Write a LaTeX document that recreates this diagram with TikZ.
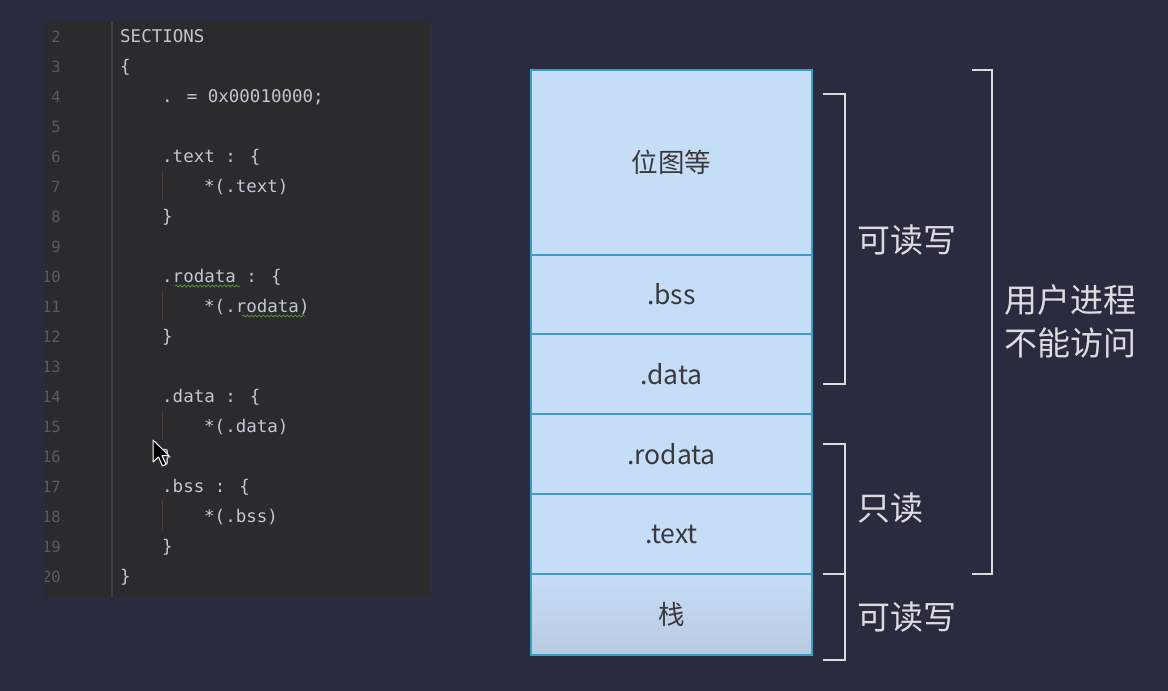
\documentclass[tikz,border=0pt]{standalone}
\usepackage{fontspec}
\setmainfont{Noto Sans CJK SC}
\newfontfamily\codefont{DejaVu Sans Mono}
\usetikzlibrary{decorations.pathmorphing}

\definecolor{hintergrund}{HTML}{282C3E}
\definecolor{editor}{HTML}{2B2B2D}
\definecolor{gutter}{HTML}{3E3F44}
\definecolor{codetext}{HTML}{C2C7D2}
\definecolor{zeilennr}{HTML}{585C64}
\definecolor{zellfarbe}{HTML}{C6DDF8}
\definecolor{zellrand}{HTML}{3C9EC4}
\definecolor{zelltext}{HTML}{3A3A3C}
\definecolor{klammerfarbe}{HTML}{DCDCE0}
\definecolor{wellig}{HTML}{4F8A3C}
\definecolor{fuehrung}{HTML}{4A3A3C}

\tikzset{
	zeile/.style={anchor=base west, inner sep=0pt, text=codetext, font=\codefont\fontsize{17.5}{20}\selectfont},
	nummer/.style={anchor=base east, inner sep=0pt, text=zeilennr, font=\codefont\fontsize{15.5}{18}\selectfont},
	zelle/.style={draw=zellrand, line width=1.2pt, fill=zellfarbe, minimum width=281, minimum height=#1, inner sep=0pt, text=zelltext, font=\fontsize{26.5}{30}\selectfont},
	klammer/.style={draw=klammerfarbe, line width=2pt},
	beschriftung/.style={anchor=west, inner sep=0pt, text=klammerfarbe, font=\fontsize{33}{43}\selectfont, align=left},
}

\begin{document}
\begin{tikzpicture}[x=1pt,y=-1pt]
		% Hintergrund
		\fill[hintergrund] (0,0) rectangle (1168,691);
		\useasboundingbox (0,0) rectangle (1168,691);
		
		% Editorfenster mit Zeilennummern
		\fill[editor] (45,22) rectangle (430,597);
		\draw[gutter, line width=1.5pt] (112,22) -- (112,597);
		\begin{scope}
			\clip (45,22) rectangle (112,597);
			\foreach \n in {2,...,20} {
				\node[nummer] (nr\n) at (61,36+30*\n-60+6) {\n};
			}
		\end{scope}
		
		% Einrueckungslinien fuer die inneren Zeilen
		\foreach \n in {7,11,15,18} {
			\draw[fuehrung, line width=0.8pt] (162,36+30*\n-60-16) -- (162,36+30*\n-60+14);
		}
		
		% Quelltext (Zeile / Einrueckung / Inhalt)
		\foreach \n/\e/\inhalt in {2/0/SECTIONS, 3/0/\{, 4/1/. = 0x00010000;,
			6/1/.text : \{, 7/2/*(.text), 8/1/\}, 10/1/.rodata : \{, 11/2/*(.rodata), 12/1/\},
			14/1/.data : \{, 15/2/*(.data), 16/1/\}, 17/1/.bss : \{, 18/2/*(.bss), 19/1/\}, 20/0/\}} {
			\node[zeile] (code\n) at (120+42*\e,36+30*\n-60+6) {\inhalt};
		}
		
		% Wellenlinien unter rodata
		\draw[wellig, line width=0.8pt, decorate, decoration={snake, segment length=4pt, amplitude=1pt}] (175,286) -- (240,286);
		\draw[wellig, line width=0.8pt, decorate, decoration={snake, segment length=4pt, amplitude=1pt}] (242,316) -- (305,316);
		
		% Mauszeiger
		\filldraw[fill=black, draw=white, line width=1pt, line join=round]
			(153,440) -- (153,462) -- (158.5,457) -- (162.5,466) -- (166,464.5) -- (162,455.5) -- (169,455.5) -- cycle;
		
		% Speicherbereiche von oben nach unten
		\foreach \zname/\inhalt/\mitte/\hoehe in {bitmap/位图等/162.5/185, bss/.bss/294.5/79, data/.data/374/80, rodata/.rodata/454/80, textseg/.text/534/80} {
			\node[zelle=\hoehe] (\zname) at (671.5,\mitte) {\inhalt};
		}
		\node[zelle=81, top color=zellfarbe, bottom color=zellfarbe!80!gray] (stack) at (671.5,614.5) {栈};
		
		% Klammern rechts
		\draw[klammer] (823,94) -- (845,94) -- (845,384) -- (823,384);
		\draw[klammer] (823,444) -- (845,444) -- (845,660) -- (823,660);
		\draw[klammer] (823,574) -- (845,574);
		\draw[klammer] (972,70) -- (992,70) -- (992,574) -- (972,574);
		
		% Beschriftungen der Klammern
		\node[beschriftung] (rw1) at (857,240) {可读写};
		\node[beschriftung] (ro) at (857,508) {只读};
		\node[beschriftung] (rw2) at (857,617) {可读写};
		\node[beschriftung] (kernel) at (1004,321) {用户进程\\不能访问};
	\end{tikzpicture}
\end{document}
